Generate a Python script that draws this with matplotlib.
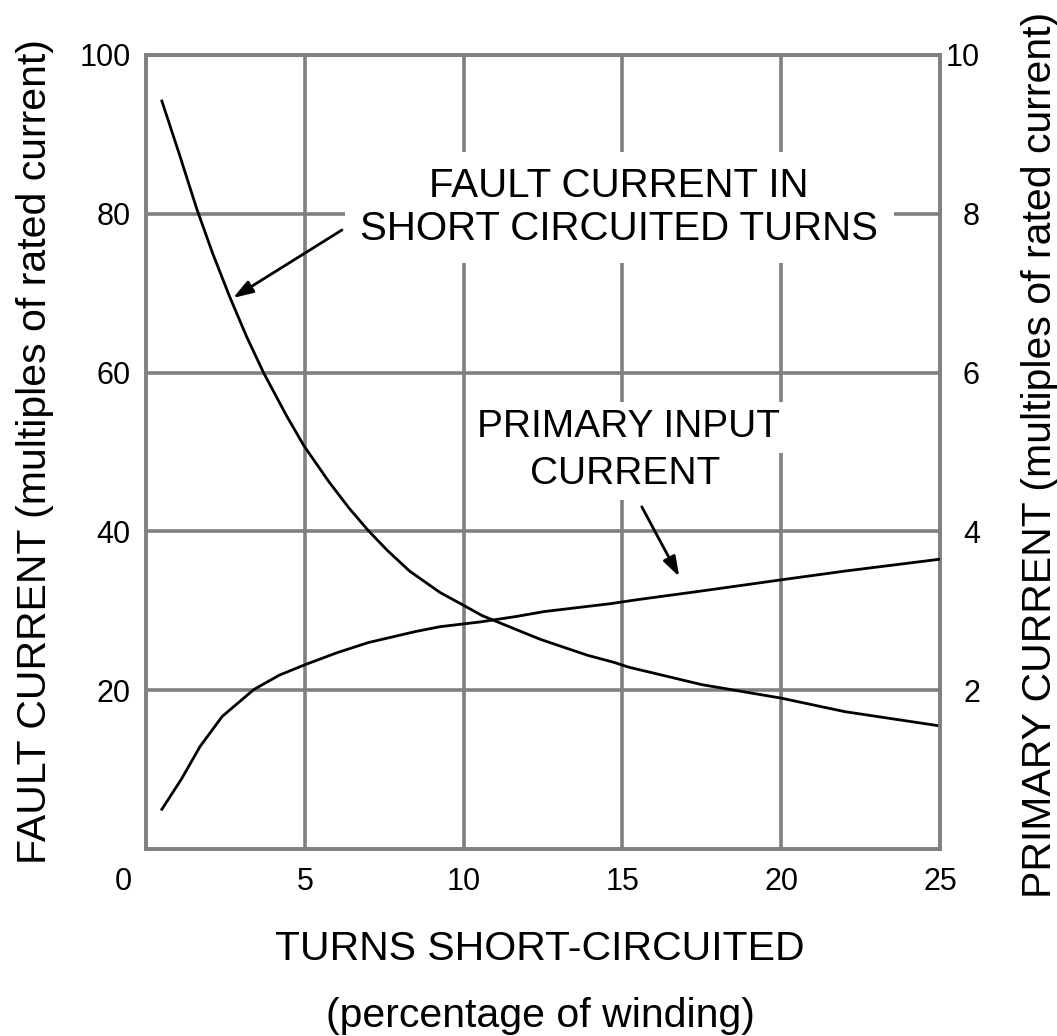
import matplotlib
matplotlib.use("Agg")
import matplotlib.pyplot as plt

plt.rcParams['font.family'] = ['Liberation Sans', 'DejaVu Sans']

# ---- data ----
fault_x = [0.5, 1.05, 1.6, 2.1, 2.63, 3.16, 3.7, 4.42, 4.97, 5.75, 6.4, 7.0,
           7.6, 8.3, 9.26, 9.95, 10.58, 11.68, 12.42, 13.16, 13.9, 14.74, 15.2,
           17.5, 20.0, 22.0, 25.0]
fault_y = [94.2, 87.5, 80.6, 75.0, 69.6, 64.6, 60.0, 54.6, 50.8, 46.3, 42.9, 40.1,
           37.6, 35.0, 32.3, 30.8, 29.4, 27.6, 26.4, 25.4, 24.4, 23.5, 22.9,
           20.7, 19.0, 17.3, 15.5]

primary_x = [0.5, 1.13, 1.7, 2.4, 3.4, 4.2, 5.0, 6.0, 7.0, 8.5, 9.26, 10.53,
             11.68, 12.53, 13.58, 14.63, 15.47, 17.5, 20.0, 22.0, 25.0]
primary_y = [0.50, 0.89, 1.29, 1.67, 2.01, 2.19, 2.32, 2.47, 2.60, 2.74, 2.80, 2.86,
             2.93, 2.99, 3.04, 3.09, 3.14, 3.25, 3.39, 3.50, 3.65]

x_ticks = [5, 10, 15, 20, 25]
left_ticks = [20, 40, 60, 80, 100]
right_ticks = [2, 4, 6, 8, 10]

W, H = 1057, 1036
fig = plt.figure(figsize=(W / 100, H / 100), dpi=100)
L, R, T, B = 146, 940, 55, 849
ax = fig.add_axes([L / W, 1 - B / H, (R - L) / W, (B - T) / H])
ax2 = ax.twinx()

grey = '#808080'
lw_grid = 2.6

ax.set_xlim(0, 25)
ax.set_ylim(0, 100)
ax2.set_ylim(0, 10)

ax.set_xticks(x_ticks)
ax.set_yticks(left_ticks)
ax2.set_yticks(right_ticks)
ax.set_xticklabels([str(v) for v in x_ticks])
ax.set_yticklabels([str(v) for v in left_ticks])
ax2.set_yticklabels([str(v) for v in right_ticks])

ax.grid(True, color=grey, linewidth=lw_grid, zorder=0)
ax.set_axisbelow(True)
for a in (ax, ax2):
    for s in a.spines.values():
        s.set_color(grey)
        s.set_linewidth(lw_grid)

ax.tick_params(axis='x', length=0, pad=13, labelsize=22)
ax.tick_params(axis='y', length=0, pad=11, labelsize=22)
ax2.tick_params(axis='y', length=0, pad=28.8, labelsize=22)
for lab in ax2.get_yticklabels():
    lab.set_horizontalalignment('right')

# origin label
ax.annotate('0', xy=(0, 0), xycoords='axes fraction', xytext=(-14, -18),
            textcoords='offset pixels', ha='right', va='top', fontsize=22)

ax.plot(fault_x, fault_y, color='black', linewidth=2.0, zorder=3)
ax2.plot(primary_x, primary_y, color='black', linewidth=2.0, zorder=3)

# annotations
ax.text(14.9, 80.8, 'FAULT CURRENT IN\nSHORT CIRCUITED TURNS', ha='center', va='center',
        multialignment='center', fontsize=29, linespacing=1.17, zorder=5,
        bbox=dict(boxstyle='square,pad=0.38', facecolor='white', edgecolor='none'))
ax.text(15.18, 53.1, 'PRIMARY INPUT', ha='center', va='center', fontsize=28, zorder=5,
        bbox=dict(boxstyle='square,pad=0.2', facecolor='white', edgecolor='none'))
ax.text(15.08, 47.2, 'CURRENT', ha='center', va='center', fontsize=28, zorder=5,
        bbox=dict(boxstyle='square,pad=0.2', facecolor='white', edgecolor='none'))

arrow = dict(arrowstyle='-|>,head_length=0.6,head_width=0.2', color='black', lw=2.0,
             shrinkA=0, shrinkB=0, mutation_scale=20)
ax.annotate('', xy=(2.74, 69.4), xytext=(6.17, 77.96), arrowprops=arrow, zorder=6)
ax.annotate('', xy=(16.79, 34.3), xytext=(15.61, 43.1), arrowprops=arrow, zorder=6)

# axis labels
fig.text(35 / W, 1 - 452 / H, 'FAULT CURRENT (multiples of rated current)',
         rotation=90, ha='center', va='center', fontsize=29.5)
fig.text(1040 / W, 1 - 455 / H, 'PRIMARY CURRENT (multiples of rated current)',
         rotation=90, ha='center', va='center', fontsize=29.5)
fig.text(540 / W, 1 - 949 / H, 'TURNS SHORT-CIRCUITED', ha='center', va='center',
         fontsize=29.5)
fig.text(540 / W, 1 - 1016 / H, '(percentage of winding)', ha='center', va='center',
         fontsize=29.5)

fig.savefig('out.png', dpi=100, facecolor='white')
